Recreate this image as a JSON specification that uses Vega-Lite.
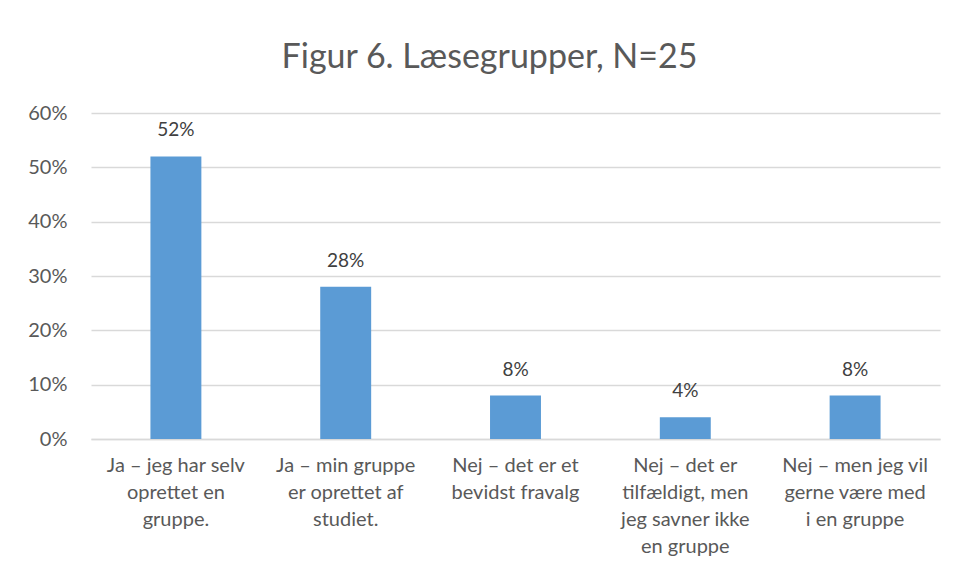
{
  "$schema": "https://vega.github.io/schema/vega-lite/v6.json",
  "autosize": "none",
  "width": 849,
  "height": 326,
  "padding": {"left": 91, "top": 113, "right": 15, "bottom": 140},
  "background": "white",
  "title": {
    "text": "Figur 6. Læsegrupper, N=25",
    "font": "Lato",
    "fontSize": 34,
    "fontWeight": "normal",
    "color": "#595959",
    "anchor": "middle",
    "dx": -26,
    "offset": 28
  },
  "config": {
    "view": {"stroke": null},
    "font": "Lato"
  },
  "data": {
    "values": [
      {"kategori": "Ja – jeg har selv|oprettet en|gruppe.", "andel": 0.52, "orden": 1},
      {"kategori": "Ja – min gruppe|er oprettet af|studiet.", "andel": 0.28, "orden": 2},
      {"kategori": "Nej – det er et|bevidst fravalg", "andel": 0.08, "orden": 3},
      {"kategori": "Nej – det er|tilfældigt, men|jeg savner ikke|en gruppe", "andel": 0.04, "orden": 4},
      {"kategori": "Nej – men jeg vil|gerne være med|i en gruppe", "andel": 0.08, "orden": 5}
    ]
  },
  "encoding": {
    "x": {
      "field": "kategori",
      "type": "nominal",
      "sort": {"field": "orden"},
      "scale": {"paddingInner": 0.7, "paddingOuter": 0.35},
      "axis": {
        "title": null,
        "labelAngle": 0,
        "labelExpr": "split(datum.label, '|')",
        "labelFont": "Lato",
        "labelFontSize": 20,
        "labelColor": "#595959",
        "labelLineHeight": 27,
        "labelPadding": 16,
        "labelBaseline": "top",
        "labelLimit": 300,
        "ticks": false,
        "domainColor": "#d9d9d9",
        "domainWidth": 1.5
      }
    },
    "y": {
      "field": "andel",
      "type": "quantitative",
      "scale": {"domain": [0, 0.6]},
      "axis": {
        "title": null,
        "values": [0, 0.1, 0.2, 0.3, 0.4, 0.5, 0.6],
        "format": ".0%",
        "labelFont": "Lato",
        "labelFontSize": 20,
        "labelColor": "#595959",
        "labelPadding": 24,
        "ticks": false,
        "domain": false,
        "gridColor": "#d9d9d9",
        "gridWidth": 1.5
      }
    }
  },
  "layer": [
    {"mark": {"type": "bar", "color": "#5b9bd5"}},
    {
      "mark": {"type": "text", "baseline": "bottom", "dy": -16, "fontSize": 19, "font": "Lato", "color": "#404040"},
      "encoding": {"text": {"field": "andel", "type": "quantitative", "format": ".0%"}}
    }
  ]
}
